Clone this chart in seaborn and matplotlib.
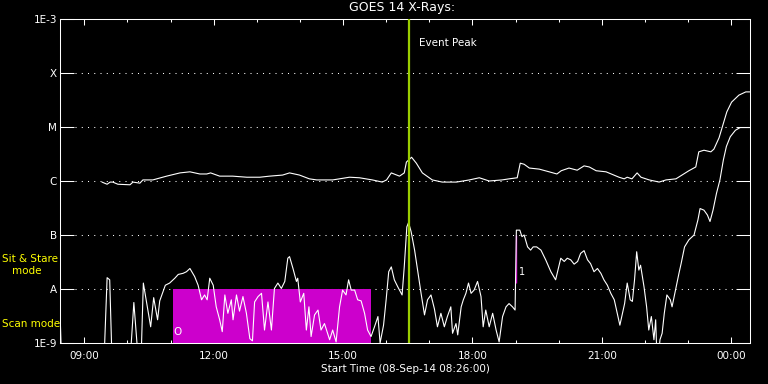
import numpy as np
import pandas as pd
import seaborn as sns
import matplotlib
matplotlib.use('Agg')
import matplotlib.pyplot as plt

# clock time in hours (past midnight keeps counting past 24), log10 of flux in W/m^2
long_t = [9.41, 9.53, 9.60, 9.66, 9.78, 10.06, 10.13, 10.29, 10.36, 10.59, 10.91, 11.22, 11.45,
          11.68, 11.84, 11.93, 12.14, 12.44, 12.77, 13.07, 13.30, 13.60, 13.76, 13.99, 14.22,
          14.39, 14.76, 15.15, 15.38, 15.68, 15.91, 16.01, 16.12, 16.31, 16.42, 16.47, 16.59,
          16.70, 16.84, 17.07, 17.30, 17.63, 17.93, 18.16, 18.39, 18.69, 18.85, 19.04, 19.11,
          19.20, 19.32, 19.55, 19.78, 19.96, 20.06, 20.24, 20.43, 20.59, 20.71, 20.87, 21.10,
          21.40, 21.52, 21.59, 21.70, 21.82, 21.91, 22.10, 22.33, 22.49, 22.72, 22.86, 23.02,
          23.18, 23.25, 23.37, 23.53, 23.60, 23.72, 23.90, 24.01, 24.18, 24.34, 24.43]
long_log = [-6.02, -6.06, -6.02, -6.02, -6.06, -6.07, -6.02, -6.04, -5.98, -5.98, -5.91, -5.85,
            -5.83, -5.87, -5.87, -5.85, -5.91, -5.91, -5.93, -5.93, -5.91, -5.89, -5.85, -5.89,
            -5.96, -5.98, -5.98, -5.93, -5.94, -5.98, -6.02, -5.98, -5.85, -5.91, -5.85, -5.65,
            -5.56, -5.67, -5.85, -5.98, -6.02, -6.02, -5.98, -5.94, -6.00, -5.98, -5.96, -5.94,
            -5.67, -5.69, -5.76, -5.78, -5.83, -5.87, -5.81, -5.76, -5.80, -5.72, -5.74, -5.81,
            -5.83, -5.93, -5.96, -5.93, -5.96, -5.85, -5.93, -5.98, -6.02, -5.98, -5.96, -5.89,
            -5.81, -5.74, -5.46, -5.43, -5.46, -5.41, -5.20, -4.72, -4.54, -4.41, -4.35, -4.35]

short_t = [8.44, 8.46, 8.50, 9.45, 9.53, 9.59, 9.65, 10.05, 10.15, 10.27, 10.31, 10.37, 10.54,
           10.61, 10.70, 10.75, 10.88, 10.98, 11.10, 11.18, 11.29, 11.37, 11.45, 11.56, 11.64,
           11.72, 11.79, 11.85, 11.91, 11.99, 12.06, 12.14, 12.20, 12.26, 12.33, 12.41, 12.45,
           12.53, 12.60, 12.68, 12.76, 12.84, 12.90, 12.95, 13.03, 13.11, 13.18, 13.26, 13.34,
           13.41, 13.49, 13.57, 13.65, 13.72, 13.76, 13.84, 13.92, 13.95, 14.01, 14.09, 14.15,
           14.21, 14.26, 14.34, 14.42, 14.49, 14.57, 14.69, 14.76, 14.84, 14.92, 14.99, 15.07,
           15.13, 15.19, 15.27, 15.34, 15.42, 15.50, 15.57, 15.65, 15.73, 15.81, 15.86, 15.94,
           16.00, 16.06, 16.12, 16.19, 16.27, 16.35, 16.37, 16.42, 16.48, 16.52, 16.58, 16.66,
           16.73, 16.81, 16.89, 16.96, 17.04, 17.12, 17.19, 17.27, 17.35, 17.42, 17.50, 17.54,
           17.62, 17.66, 17.74, 17.79, 17.85, 17.91, 17.97, 18.04, 18.12, 18.20, 18.25, 18.31,
           18.39, 18.47, 18.55, 18.62, 18.70, 18.78, 18.85, 18.93, 18.99, 19.02, 19.10, 19.15,
           19.20, 19.28, 19.35, 19.41, 19.49, 19.59, 19.70, 19.82, 19.93, 20.05, 20.13, 20.20,
           20.28, 20.36, 20.44, 20.51, 20.59, 20.67, 20.74, 20.82, 20.90, 20.98, 21.05, 21.13,
           21.21, 21.29, 21.36, 21.42, 21.48, 21.53, 21.59, 21.66, 21.71, 21.76, 21.81, 21.86,
           21.90, 21.98, 22.04, 22.09, 22.15, 22.21, 22.25, 22.29, 22.35, 22.40, 22.45, 22.51,
           22.59, 22.63, 22.71, 22.79, 22.84, 22.92, 23.02, 23.14, 23.23, 23.28, 23.37, 23.45,
           23.51, 23.58, 23.66, 23.74, 23.82, 23.89, 23.98, 24.10, 24.21, 24.43]
short_log = [-8.48, -8.98, -9.5, -9.5, -7.79, -7.83, -9.5, -9.5, -8.25, -9.5, -9.5, -7.89, -8.70,
             -8.16, -8.57, -8.22, -7.93, -7.89, -7.80, -7.73, -7.71, -7.68, -7.62, -7.77, -7.93,
             -8.20, -8.11, -8.20, -7.80, -7.93, -8.33, -8.57, -8.79, -8.11, -8.45, -8.20, -8.57,
             -8.11, -8.41, -8.14, -8.45, -8.92, -8.96, -8.24, -8.14, -8.08, -8.76, -8.24, -8.76,
             -7.99, -7.89, -7.99, -7.86, -7.43, -7.40, -7.62, -7.86, -7.80, -8.24, -8.08, -8.76,
             -8.33, -8.88, -8.48, -8.39, -8.76, -8.64, -8.94, -8.76, -8.98, -8.33, -8.02, -8.11,
             -7.83, -8.02, -8.02, -8.20, -8.22, -8.45, -8.76, -8.88, -8.70, -8.51, -9.0, -8.67,
             -8.20, -7.68, -7.59, -7.83, -7.96, -8.08, -8.11, -7.59, -6.85, -6.77, -6.94, -7.28,
             -7.65, -8.08, -8.48, -8.20, -8.11, -8.37, -8.70, -8.45, -8.70, -8.51, -8.33, -8.82,
             -8.64, -8.85, -8.33, -8.20, -8.08, -7.89, -8.08, -8.02, -7.86, -8.14, -8.70, -8.39,
             -8.70, -8.45, -8.76, -8.98, -8.51, -8.33, -8.27, -8.33, -8.39, -6.91, -6.91, -7.03,
             -7.00, -7.22, -7.28, -7.22, -7.22, -7.28, -7.46, -7.68, -7.83, -7.43, -7.49, -7.43,
             -7.46, -7.54, -7.49, -7.34, -7.29, -7.46, -7.53, -7.68, -7.62, -7.71, -7.83, -7.93,
             -8.08, -8.20, -8.45, -8.67, -8.45, -8.27, -7.89, -8.20, -8.23, -7.83, -7.31, -7.65,
             -7.56, -7.96, -8.33, -8.76, -8.51, -8.94, -8.57, -9.5, -8.94, -8.82, -8.45, -8.11,
             -8.20, -8.33, -8.02, -7.71, -7.53, -7.22, -7.09, -7.00, -6.72, -6.51, -6.54, -6.63,
             -6.75, -6.54, -6.23, -5.98, -5.61, -5.36, -5.18, -5.06, -5.01, -5.01]

level_exp = [-9, -8, -7, -6, -5, -4, -3]
level_labels = ['1E-9', 'A', 'B', 'C', 'M', 'X', '1E-3']
hour_ticks = [9, 12, 15, 18, 21, 24]
hour_labels = ['09:00', '12:00', '15:00', '18:00', '21:00', '00:00']
t_start, t_end = 8.4375, 24.4375
peak_t = 16.54
scan_t = [11.05, 15.66]
scan_lvl = [-9, -8]
mark_t = 19.02
mark_lvl = [-7.0, -7.89]

long_df = pd.DataFrame({'time': long_t, 'flux': 10.0 ** np.array(long_log)})
short_df = pd.DataFrame({'time': short_t, 'flux': 10.0 ** np.array(short_log)})

sns.set_theme(style='white', rc={'axes.facecolor': 'black', 'figure.facecolor': 'black',
                                 'axes.edgecolor': 'white', 'text.color': 'white',
                                 'xtick.color': 'white', 'ytick.color': 'white'})
plt.rcParams['font.family'] = ['DejaVu Sans']

fig = plt.figure(figsize=(7.68, 3.84), dpi=100)
ax = fig.add_axes([60 / 768, 41 / 384, 690 / 768, 324 / 384])

# scan mode block
ax.fill_between(scan_t, 10.0 ** scan_lvl[0], 10.0 ** scan_lvl[1], color='#cc00cc', lw=0, zorder=1)
ax.vlines(mark_t, 10.0 ** mark_lvl[1], 10.0 ** mark_lvl[0], color='#cc00cc', lw=1, zorder=2)

sns.lineplot(data=long_df, x='time', y='flux', ax=ax, color='white', lw=0.8,
             estimator=None, sort=False, zorder=3)
sns.lineplot(data=short_df, x='time', y='flux', ax=ax, color='white', lw=0.8,
             estimator=None, sort=False, zorder=3)

ax.axvline(peak_t, color='#9acd00', lw=1.6, zorder=4)
ax.text(peak_t + 0.23, 10.0 ** -3.44, 'Event Peak', color='white', fontsize=7.5, va='center')
ax.text(11.17, 10.0 ** -8.8, 'O', color='white', fontsize=7.5, va='center', ha='center')
ax.text(19.14, 10.0 ** -7.68, '1', color='white', fontsize=7, va='center', ha='center', zorder=5)

ax.set_yscale('log')
ax.set_ylim(10.0 ** level_exp[0], 10.0 ** level_exp[-1])
ax.set_xlim(t_start, t_end)
ax.set_yticks([10.0 ** e for e in level_exp])
ax.set_yticklabels(level_labels)
ax.yaxis.set_minor_locator(matplotlib.ticker.NullLocator())
ax.set_xticks(hour_ticks)
ax.set_xticklabels(hour_labels)
ax.set_xticks(np.arange(9, 25), minor=True)

for e in level_exp[1:-1]:
    ax.axhline(10.0 ** e, xmin=0.022, xmax=0.981, color='white', lw=0.75,
               linestyle=(0, (1, 5)), zorder=0)

ax.tick_params(axis='y', which='major', direction='in', length=10, width=0.75,
               left=True, right=True, labelsize=7.5, pad=2)
ax.tick_params(axis='x', which='major', direction='in', length=4.5, width=0.75,
               top=True, bottom=True, labelsize=7.5, pad=6)
ax.tick_params(axis='x', which='minor', direction='in', length=2.2, width=0.75,
               top=True, bottom=True)
for s in ax.spines.values():
    s.set_linewidth(0.75)
    s.set_color('white')

ax.set_xlabel('Start Time (08-Sep-14 08:26:00)', fontsize=7.5, color='white', labelpad=2)
ax.set_ylabel('')

fig.text(402 / 768, 1 - 8 / 384, 'GOES 14 X-Rays:', color='white', fontsize=9,
         ha='center', va='center')
fig.text(2 / 768, 1 - 259 / 384, 'Sit & Stare', color='#ffff00', fontsize=7.5, va='center')
fig.text(12 / 768, 1 - 271 / 384, 'mode', color='#ffff00', fontsize=7.5, va='center')
fig.text(2 / 768, 1 - 324 / 384, 'Scan mode', color='#ffff00', fontsize=7.5, va='center')

fig.savefig('out.png', dpi=100, facecolor='black')
